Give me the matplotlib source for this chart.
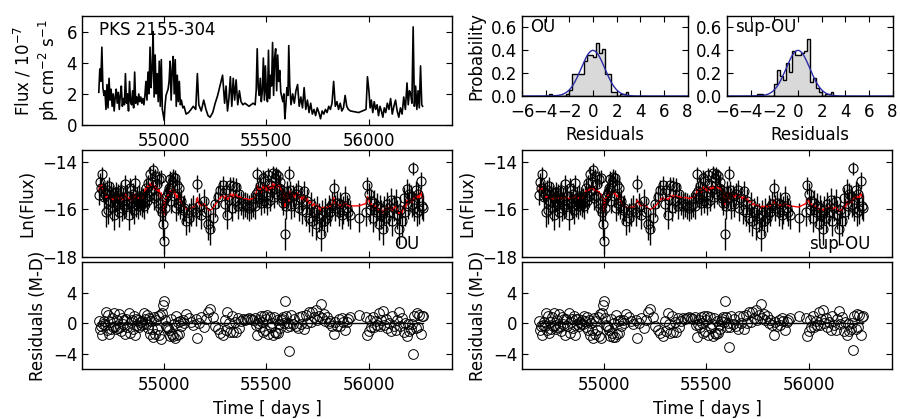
import numpy as np
import matplotlib
matplotlib.use('Agg')
import matplotlib.pyplot as plt

# observation times [MJD]
times = [
    54682, 54687, 54692, 54697, 54702, 54707, 54712, 54717, 54722, 54727, 54732, 54737, 54742, 54747, 54752,
    54757, 54762, 54767, 54772, 54777, 54782, 54787, 54792, 54797, 54802, 54807, 54812, 54817, 54822, 54827,
    54832, 54837, 54842, 54847, 54852, 54857, 54862, 54867, 54872, 54877, 54882, 54887, 54892, 54897,
    54902, 54907, 54912, 54917, 54922, 54927, 54932, 54937, 54942, 54947, 54952, 54957, 54962, 54967, 54972,
    54977, 54982, 54987, 54992, 54997, 55001, 55005, 55010, 55015, 55020, 55025, 55030, 55035, 55040, 55045,
    55050, 55055, 55060, 55065, 55070, 55075, 55080, 55085, 55092, 55098,
    55108, 55120, 55132, 55143, 55155, 55163, 55170, 55182, 55194, 55205, 55215, 55225, 55238, 55250, 55262,
    55275, 55286, 55296,
    55303, 55310, 55317, 55324, 55331, 55338, 55345, 55352, 55360, 55368, 55376, 55385, 55395, 55405, 55415,
    55425, 55435, 55445,
    55450, 55455, 55460, 55465, 55470, 55475, 55480, 55485, 55490, 55495, 55500, 55505, 55510, 55515, 55520,
    55525, 55530, 55535, 55540, 55545, 55550, 55555, 55560, 55565, 55570, 55575, 55580, 55585, 55590, 55595,
    55600, 55605, 55609, 55614,
    55620, 55628, 55636, 55644, 55652, 55660, 55668, 55676, 55684, 55692, 55700, 55708, 55716, 55724, 55732,
    55740, 55748, 55756, 55764, 55772, 55780, 55788, 55796, 55804, 55812, 55820, 55828, 55836, 55844, 55852,
    55860, 55868, 55876, 55884, 55892, 55900, 55910,
    55950,
    55986, 55993, 56000, 56006, 56012, 56019, 56026, 56033, 56040, 56047, 56054, 56061, 56068, 56075, 56082,
    56090, 56098, 56106, 56114, 56122, 56130, 56138, 56146, 56154, 56162, 56170, 56178, 56186, 56192, 56198,
    56204, 56210, 56216, 56222, 56228, 56234, 56240, 56246, 56252, 56258, 56262,
]

# flux in units of 1e-7 ph cm^-2 s^-1
flux = [
    2.1, 3.6, 2.8, 5.0, 2.4, 1.9, 2.2, 1.0, 2.6, 1.1, 3.0, 1.6, 2.3, 1.2, 2.0,
    0.9, 1.8, 2.3, 1.4, 2.1, 1.0, 1.9, 2.5, 1.2, 1.7, 1.3, 3.3, 1.4, 2.0, 0.9,
    2.8, 1.5, 1.3, 2.2, 1.1, 3.4, 1.4, 1.8, 1.3, 2.0, 1.5, 1.8, 1.4, 1.7,
    1.3, 1.9, 2.8, 1.6, 3.4, 2.0, 5.0, 2.4, 3.6, 6.0, 1.8, 4.5, 2.0, 3.3, 1.5,
    4.1, 1.2, 4.2, 1.0, 0.6, 0.3, 1.2, 1.9, 2.1, 2.3, 2.8, 4.1, 1.6, 3.5, 4.4,
    2.0, 4.2, 1.2, 3.2, 1.5, 2.8, 1.3, 1.6, 1.1, 1.2,
    0.7, 0.8, 1.0, 1.2, 1.0, 3.3, 1.3, 0.9, 1.6, 1.0, 0.6, 0.5, 0.8, 1.4, 1.9,
    2.6, 3.2, 1.4,
    2.5, 0.9, 1.7, 3.1, 1.2, 3.0, 1.6, 2.9, 1.3, 2.2, 1.5, 1.3, 1.4, 1.3, 1.2,
    1.3, 1.4, 1.3,
    2.2, 4.9, 2.4, 1.9, 3.0, 1.5, 2.2, 4.3, 1.6, 3.8, 2.0, 1.5, 4.8, 1.7, 3.2,
    2.5, 5.3, 1.9, 4.3, 4.9, 2.2, 4.5, 2.8, 3.5, 2.1, 1.8, 1.5, 2.0, 0.4, 1.3,
    2.4, 1.9, 5.1, 2.5,
    1.3, 2.0, 1.4, 2.2, 2.6, 1.2, 1.8, 1.1, 2.4, 1.0, 1.6, 0.8, 1.4, 0.7, 1.0,
    0.6, 1.1, 0.8, 0.4, 0.9, 0.7, 1.0, 0.8, 1.2, 1.0, 1.4, 2.8, 1.2, 1.5, 1.0,
    1.4, 0.9, 1.1, 1.9, 1.2, 1.0, 0.9,
    0.8,
    1.0, 3.1, 2.2, 1.1, 1.6, 0.8, 1.5, 1.0, 1.3, 0.6, 1.2, 0.9, 0.5, 1.1, 0.8,
    1.4, 1.0, 1.7, 0.7, 1.2, 1.6, 0.9, 0.5, 1.1, 0.7, 1.8, 1.0, 2.7, 1.3, 2.2,
    2.0, 1.4, 6.3, 1.2, 2.5, 1.0, 2.2, 1.1, 3.8, 1.3, 1.2,
]

# 1-sigma errors on ln(flux)
ln_err = [
    0.45, 0.35, 0.4, 0.3, 0.42, 0.48, 0.44, 0.6, 0.4, 0.58, 0.38, 0.5, 0.43, 0.55, 0.46,
    0.62, 0.48, 0.44, 0.52, 0.45, 0.6, 0.47, 0.41, 0.56, 0.5, 0.54, 0.36, 0.52, 0.46, 0.63,
    0.4, 0.5, 0.55, 0.45, 0.58, 0.36, 0.53, 0.49, 0.55, 0.46, 0.5, 0.48, 0.52, 0.5,
    0.55, 0.47, 0.4, 0.5, 0.36, 0.46, 0.3, 0.42, 0.35, 0.28, 0.48, 0.32, 0.46, 0.37, 0.5,
    0.33, 0.56, 0.33, 0.6, 0.66, 0.55, 0.56, 0.47, 0.45, 0.43, 0.4, 0.33, 0.5, 0.35, 0.32,
    0.46, 0.33, 0.56, 0.37, 0.5, 0.4, 0.55, 0.5, 0.58, 0.56,
    0.62, 0.6, 0.58, 0.55, 0.58, 0.36, 0.54, 0.6, 0.5, 0.58, 0.66, 0.68, 0.6, 0.52, 0.47,
    0.4, 0.37, 0.52,
    0.41, 0.6, 0.49, 0.37, 0.55, 0.38, 0.5, 0.38, 0.54, 0.44, 0.5, 0.54, 0.52, 0.54, 0.56,
    0.54, 0.52, 0.54,
    0.44, 0.3, 0.42, 0.47, 0.38, 0.5, 0.44, 0.32, 0.5, 0.34, 0.46, 0.5, 0.3, 0.49, 0.37,
    0.41, 0.29, 0.47, 0.32, 0.3, 0.44, 0.31, 0.4, 0.35, 0.45, 0.48, 0.5, 0.46, 0.68, 0.54,
    0.42, 0.47, 0.3, 0.41,
    0.54, 0.46, 0.52, 0.44, 0.4, 0.55, 0.48, 0.57, 0.42, 0.58, 0.5, 0.62, 0.52, 0.63, 0.58,
    0.66, 0.57, 0.62, 0.7, 0.6, 0.63, 0.58, 0.62, 0.55, 0.58, 0.52, 0.39, 0.55, 0.5, 0.58,
    0.52, 0.6, 0.57, 0.47, 0.55, 0.58, 0.6,
    0.62,
    0.58, 0.37, 0.44, 0.57, 0.5, 0.62, 0.51, 0.58, 0.54, 0.66, 0.55, 0.6, 0.68, 0.57, 0.62,
    0.52, 0.58, 0.49, 0.63, 0.55, 0.5, 0.6, 0.68, 0.57, 0.63, 0.48, 0.58, 0.4, 0.54, 0.44,
    0.46, 0.52, 0.28, 0.55, 0.41, 0.58, 0.44, 0.57, 0.34, 0.54, 0.55,
]

# model ln(flux) at each time, OU process
model_ou = [
    -15.2, -15.0, -15.1, -14.95, -15.2, -15.3, -15.3, -15.5, -15.4, -15.55, -15.4, -15.5, -15.45, -15.6, -15.5,
    -15.65, -15.55, -15.45, -15.55, -15.5, -15.6, -15.55, -15.45, -15.6, -15.55, -15.6, -15.35, -15.5, -15.5, -15.65,
    -15.45, -15.55, -15.6, -15.5, -15.6, -15.35, -15.5, -15.5, -15.6, -15.5, -15.55, -15.5, -15.6, -15.55,
    -15.3, -15.2, -15.05, -15.15, -15.0, -15.1, -14.9, -15.05, -15.0, -14.85, -15.15, -15.0, -15.2, -15.1, -15.3,
    -15.15, -15.45, -15.3, -15.55, -15.7, -16.2, -15.7, -15.5, -15.45, -15.4, -15.3, -15.2, -15.35, -15.25, -15.15,
    -15.35, -15.25, -15.5, -15.4, -15.55, -15.5, -15.65, -15.7, -15.8, -15.85,
    -15.95, -16.0, -15.95, -15.9, -15.85, -15.5, -15.75, -15.85, -15.75, -15.85, -16.0, -16.05, -15.95, -15.8, -15.65,
    -15.5, -15.4, -15.55,
    -15.4, -15.6, -15.5, -15.3, -15.5, -15.35, -15.5, -15.35, -15.5, -15.45, -15.5, -15.55, -15.55, -15.55, -15.6,
    -15.55, -15.55, -15.5,
    -15.3, -15.0, -15.15, -15.25, -15.1, -15.3, -15.2, -14.95, -15.2, -15.0, -15.15, -15.25, -14.95, -15.2, -15.05,
    -15.1, -14.9, -15.1, -14.95, -14.9, -15.1, -14.95, -15.05, -15.0, -15.15, -15.25, -15.35, -15.3, -15.9, -15.45,
    -15.3, -15.35, -15.7, -15.25,
    -15.4, -15.35, -15.5, -15.35, -15.3, -15.55, -15.45, -15.6, -15.4, -15.65, -15.55, -15.75, -15.65, -15.85, -15.75,
    -15.9, -15.8, -15.9, -16.05, -15.9, -15.95, -15.9, -15.95, -15.85, -15.9, -15.8, -15.5, -15.8, -15.75, -15.85,
    -15.8, -15.9, -15.85, -15.7, -15.8, -15.85, -15.85,
    -15.85,
    -15.75, -15.45, -15.6, -15.8, -15.75, -15.95, -15.8, -15.9, -15.85, -16.05, -15.95, -16.0, -16.15, -16.0, -16.05,
    -15.9, -16.0, -15.85, -16.05, -15.95, -15.85, -16.0, -16.2, -16.05, -16.15, -15.85, -16.0, -15.6, -15.8, -15.6,
    -15.6, -15.7, -15.6, -15.5, -15.35, -15.55, -15.4, -15.55, -15.2, -15.45, -15.5,
]

# model ln(flux) at each time, superposition of OU processes
model_sup = [
    -15.2, -15.1, -15.15, -15.05, -15.25, -15.35, -15.4, -15.5, -15.45, -15.55, -15.45, -15.5, -15.5, -15.55, -15.5,
    -15.6, -15.55, -15.5, -15.55, -15.5, -15.55, -15.55, -15.5, -15.55, -15.55, -15.55, -15.45, -15.5, -15.5, -15.6,
    -15.5, -15.55, -15.55, -15.5, -15.55, -15.4, -15.5, -15.5, -15.55, -15.5, -15.55, -15.5, -15.55, -15.55,
    -15.4, -15.3, -15.2, -15.25, -15.15, -15.2, -15.05, -15.15, -15.1, -15.0, -15.2, -15.1, -15.25, -15.2, -15.3,
    -15.25, -15.4, -15.35, -15.5, -15.6, -16.1, -15.6, -15.5, -15.45, -15.4, -15.35, -15.25, -15.35, -15.3, -15.25,
    -15.35, -15.3, -15.45, -15.4, -15.5, -15.5, -15.6, -15.7, -15.8, -15.85,
    -15.9, -15.95, -15.9, -15.9, -15.85, -15.6, -15.75, -15.85, -15.8, -15.85, -15.95, -16.0, -15.95, -15.85, -15.75,
    -15.6, -15.5, -15.6,
    -15.5, -15.6, -15.55, -15.4, -15.5, -15.4, -15.5, -15.4, -15.5, -15.45, -15.5, -15.5, -15.5, -15.5, -15.55,
    -15.5, -15.5, -15.45,
    -15.35, -15.15, -15.2, -15.25, -15.15, -15.3, -15.25, -15.05, -15.2, -15.1, -15.2, -15.25, -15.05, -15.2, -15.1,
    -15.15, -15.0, -15.15, -15.05, -15.0, -15.15, -15.05, -15.1, -15.1, -15.2, -15.25, -15.3, -15.3, -15.8, -15.45,
    -15.35, -15.4, -15.6, -15.3,
    -15.4, -15.4, -15.5, -15.4, -15.35, -15.5, -15.45, -15.55, -15.45, -15.6, -15.55, -15.7, -15.65, -15.8, -15.75,
    -15.85, -15.8, -15.85, -15.95, -15.85, -15.9, -15.85, -15.9, -15.85, -15.85, -15.8, -15.6, -15.8, -15.75, -15.85,
    -15.8, -15.85, -15.85, -15.75, -15.8, -15.85, -15.85,
    -15.9,
    -15.75, -15.55, -15.65, -15.8, -15.75, -15.9, -15.8, -15.9, -15.85, -16.0, -15.95, -15.95, -16.05, -15.95, -16.0,
    -15.9, -15.95, -15.85, -16.0, -15.95, -15.9, -15.95, -16.1, -16.0, -16.05, -15.85, -15.95, -15.65, -15.8, -15.65,
    -15.65, -15.7, -15.55, -15.5, -15.4, -15.55, -15.45, -15.5, -15.3, -15.45, -15.5,
]

t = np.array(times, dtype=float)
f = np.array(flux)
err = np.array(ln_err)
lnf = np.log(f * 1e-7)
models = {'OU': np.array(model_ou), 'sup-OU': np.array(model_sup)}

plt.rcParams.update({
    'font.family': 'DejaVu Sans',
    'font.size': 12,
    'mathtext.default': 'regular',
    'xtick.direction': 'in',
    'ytick.direction': 'in',
    'xtick.top': True,
    'ytick.right': True,
    'xtick.major.size': 4,
    'ytick.major.size': 4,
    'xtick.major.pad': 5,
    'axes.linewidth': 1.0,
    'axes.formatter.useoffset': False,
})

fig = plt.figure(figsize=(9, 4.19), dpi=100)
fig.patch.set_facecolor('white')

xlim = (54600, 56405)

# light curve
ax = fig.add_axes([0.0911, 0.7017, 0.411, 0.260])
ax.plot(t, f, color='k', lw=1.2)
ax.set_xlim(xlim)
ax.set_ylim(0, 7)
ax.set_yticks([0, 2, 4, 6])
ax.set_xticks([55000, 55500, 56000])
ax.set_ylabel('Flux / 10$^{-7}$\nph cm$^{-2}$ s$^{-1}$')
ax.text(0.045, 0.95, 'PKS 2155-304', transform=ax.transAxes, va='top', ha='left')

gx = np.linspace(-6, 8, 400)
gauss = np.exp(-0.5 * gx**2) / np.sqrt(2 * np.pi)
bins = np.arange(-4.0, 3.01, 0.25)

hist_left = [0.58, 0.8078]
col_left = [0.0911, 0.58]
for i, name in enumerate(['OU', 'sup-OU']):
    model = models[name]
    # standardised residuals, model minus data
    d = model - lnf
    res = (d - d.mean()) / d.std()

    # residual histogram
    ah = fig.add_axes([hist_left[i], 0.7709, 0.184, 0.191])
    ah.hist(res, bins=bins, density=True, histtype='stepfilled',
            facecolor='0.85', edgecolor='k', lw=1)
    ah.plot(gx, gauss, color='#2b2ba6', lw=1)
    ah.set_xlim(-6, 8)
    ah.set_ylim(0, 0.7)
    ah.set_xticks(range(-6, 9, 2))
    ah.set_yticks([0.0, 0.2, 0.4, 0.6])
    ah.set_yticklabels(['0.0', '0.2', '0.4', '0.6'])
    ah.set_xlabel('Residuals')
    if i == 0:
        ah.set_ylabel('Probability')
    ah.text(0.05, 0.98, name, transform=ah.transAxes, va='top', ha='left')

    # data + model
    am = fig.add_axes([col_left[i], 0.3866, 0.411, 0.2554])
    am.errorbar(t, lnf, yerr=err, fmt='o', mfc='none', mec='k', ecolor='k',
                ms=6.5, mew=0.8, elinewidth=1, capsize=0)
    am.plot(t, model, color='red', lw=1)
    am.set_xlim(xlim)
    am.set_ylim(-18, -13.5)
    am.set_yticks([-14, -16, -18])
    am.set_xticks([55000, 55500, 56000])
    am.set_xticklabels([])
    am.set_ylabel('Ln(Flux)')
    tx = 0.845 if i == 0 else 0.775
    am.text(tx, 0.04, name, transform=am.transAxes, va='bottom', ha='left')

    # residuals vs time
    ar = fig.add_axes([col_left[i], 0.1193, 0.411, 0.2554])
    ar.plot(t, np.zeros_like(t), color='k', lw=1)
    ar.plot(t, res, 'o', mfc='none', mec='k', ms=7, mew=0.7)
    ar.set_xlim(xlim)
    ar.set_ylim(-6, 8)
    ar.set_yticks([-4, 0, 4])
    ar.set_xticks([55000, 55500, 56000])
    ar.set_ylabel('Residuals (M-D)')
    ar.set_xlabel('Time [ days ]')

fig.savefig('out.png', dpi=100, facecolor='white')
